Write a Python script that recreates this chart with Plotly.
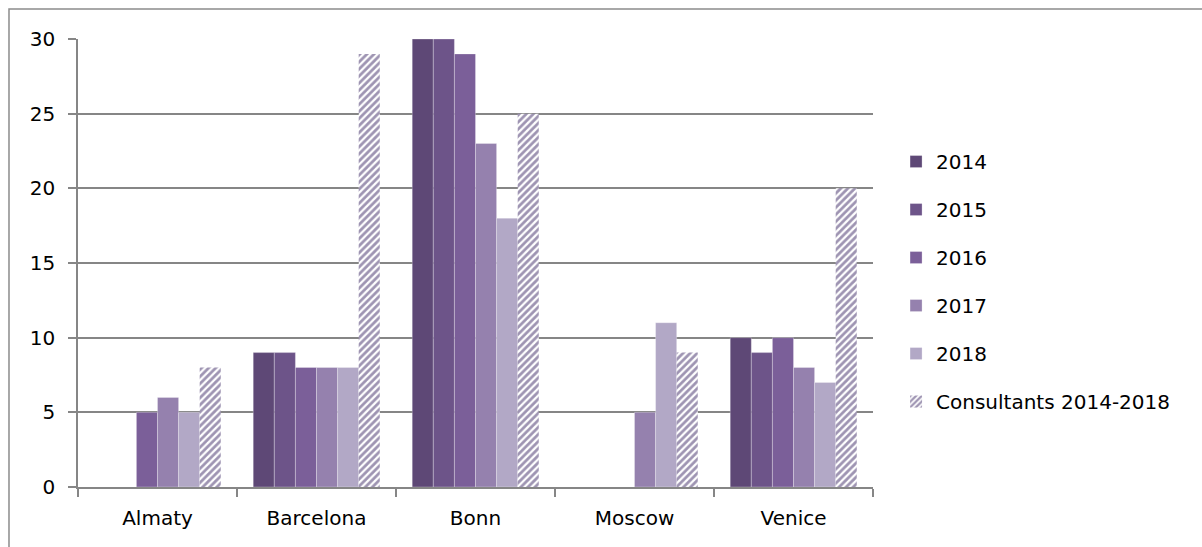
import plotly.graph_objects as go

cities = ["Almaty", "Barcelona", "Bonn", "Moscow", "Venice"]
y2014 = [None, 9, 30, None, 10]
y2015 = [None, 9, 30, None, 9]
y2016 = [5, 8, 29, None, 10]
y2017 = [6, 8, 23, 5, 8]
y2018 = [5, 8, 18, 11, 7]
consultants = [8, 29, 25, 9, 20]

series = [
    ("2014", y2014, "#5E4876"),
    ("2015", y2015, "#6D5489"),
    ("2016", y2016, "#7B5F99"),
    ("2017", y2017, "#9581AE"),
    ("2018", y2018, "#B2A8C6"),
]

FONT = "'DejaVu Sans', sans-serif"
FS = 20

fig = go.Figure()
for i, (name, vals, col) in enumerate(series):
    fig.add_trace(go.Bar(
        x=cities, y=vals, name=name, legendgroup=f"g{i}",
        marker=dict(color=col, line=dict(color="rgba(255,255,255,0.35)", width=0.8)),
    ))
fig.add_trace(go.Bar(
    x=cities, y=consultants, name="Consultants 2014-2018", legendgroup="g5",
    marker=dict(
        color="white",
        line=dict(width=0),
        pattern=dict(shape="/", fgcolor="#3E2A66", bgcolor="white",
                     size=5, solidity=0.55, fillmode="overlay"),
    ),
))

# outer frame of the chart area
fig.add_shape(type="rect", xref="paper", yref="paper",
              x0=-0.0868, x1=1.45, y0=-0.2, y1=1.067,
              line=dict(color="#8C8C8C", width=1.5), fillcolor="rgba(0,0,0,0)", layer="below")

fig.update_layout(
    width=1202, height=547,
    margin=dict(l=78, r=329, t=39, b=60),
    paper_bgcolor="white", plot_bgcolor="white",
    barmode="group", bargap=0.204, bargroupgap=0,
    font=dict(family=FONT, size=FS, color="#000000"),
    showlegend=True,
    legend=dict(
        x=1.029, xanchor="left", y=0.77, yanchor="top",
        font=dict(family=FONT, size=FS, color="#000000"),
        tracegroupgap=19, itemwidth=30, bgcolor="rgba(0,0,0,0)",
    ),
    xaxis=dict(
        showline=True, linecolor="#868686", linewidth=1.5,
        ticks="outside", tickson="boundaries", ticklen=8, tickcolor="#868686", tickwidth=1.5,
        showgrid=False, ticklabelstandoff=12,
        tickfont=dict(family=FONT, size=FS, color="#000000"),
    ),
    yaxis=dict(
        range=[0, 30], tickvals=[0, 5, 10, 15, 20, 25, 30],
        showline=True, linecolor="#868686", linewidth=1.5,
        ticks="outside", ticklen=8, tickcolor="#868686", tickwidth=1.5,
        showgrid=True, gridcolor="#868686", gridwidth=1.5,
        zeroline=False, ticklabelstandoff=9,
        tickfont=dict(family=FONT, size=FS, color="#000000"),
    ),
)

fig.write_html("out.html")
